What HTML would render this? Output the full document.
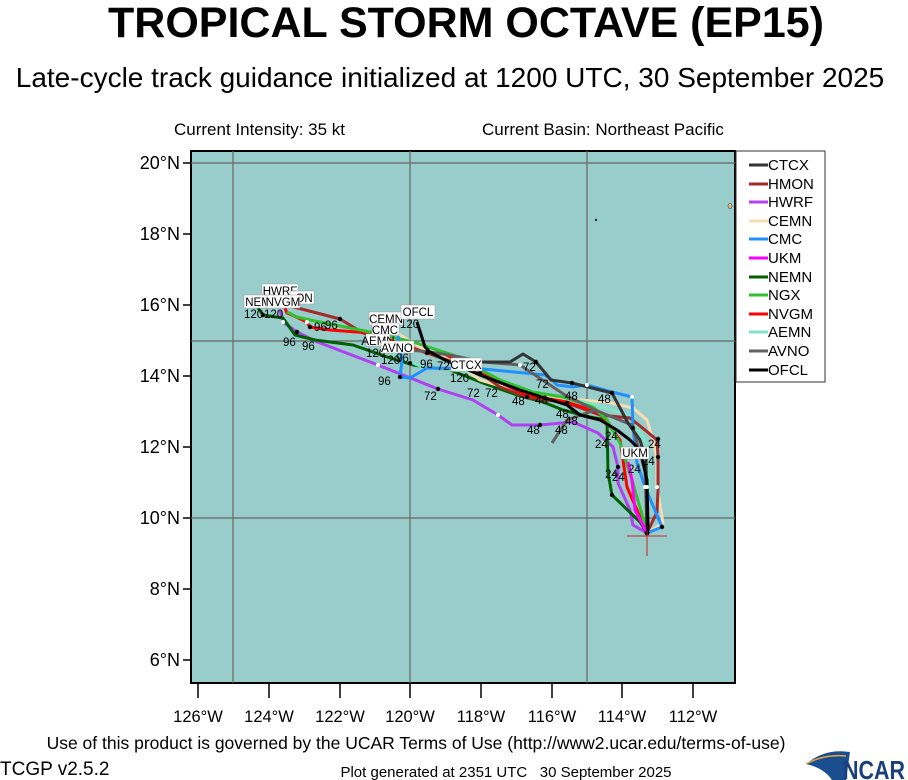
<!DOCTYPE html>
<html><head><meta charset="utf-8"><style>
body{margin:0;background:#fff;}
svg{display:block;font-family:"Liberation Sans",sans-serif;}
</style></head><body>
<svg width="908" height="780" viewBox="0 0 908 780" xmlns="http://www.w3.org/2000/svg">
<text x="466" y="37" font-size="43" font-weight="bold" text-anchor="middle">TROPICAL STORM OCTAVE (EP15)</text>
<text x="450" y="87" font-size="28" text-anchor="middle">Late-cycle track guidance initialized at 1200 UTC, 30 September 2025</text>
<text x="174" y="135" font-size="17">Current Intensity: 35 kt</text>
<text x="482" y="135" font-size="17">Current Basin: Northeast Pacific</text>
<rect x="191" y="151" width="544" height="532" fill="#99cdcc" stroke="#000" stroke-width="2"/>
<g stroke="#666" stroke-width="1.2">
<line x1="233" y1="151" x2="233" y2="683"/><line x1="410" y1="151" x2="410" y2="683"/><line x1="587" y1="151" x2="587" y2="683"/>
<line x1="191" y1="163" x2="735" y2="163"/><line x1="191" y1="341" x2="735" y2="341"/><line x1="191" y1="518" x2="735" y2="518"/>
</g>
<g stroke="#000" stroke-width="1.5">
<line x1="183" y1="163" x2="190" y2="163"/><line x1="183" y1="234" x2="190" y2="234"/><line x1="183" y1="305" x2="190" y2="305"/><line x1="183" y1="376" x2="190" y2="376"/><line x1="183" y1="447" x2="190" y2="447"/><line x1="183" y1="518" x2="190" y2="518"/><line x1="183" y1="589" x2="190" y2="589"/><line x1="183" y1="660" x2="190" y2="660"/>
<line x1="198" y1="684" x2="198" y2="698"/><line x1="269" y1="684" x2="269" y2="698"/><line x1="340" y1="684" x2="340" y2="698"/><line x1="410" y1="684" x2="410" y2="698"/><line x1="481" y1="684" x2="481" y2="698"/><line x1="552" y1="684" x2="552" y2="698"/><line x1="622" y1="684" x2="622" y2="698"/><line x1="693" y1="684" x2="693" y2="698"/>
</g>
<g font-size="18" text-anchor="end">
<text x="180" y="169">20°N</text><text x="180" y="240">18°N</text><text x="180" y="311">16°N</text><text x="180" y="382">14°N</text><text x="180" y="453">12°N</text><text x="180" y="524">10°N</text><text x="180" y="595">8°N</text><text x="180" y="666">6°N</text>
</g>
<g font-size="16.5" text-anchor="middle">
<text x="198" y="722">126°W</text><text x="269" y="722">124°W</text><text x="340" y="722">122°W</text><text x="410" y="722">120°W</text><text x="481" y="722">118°W</text><text x="552" y="722">116°W</text><text x="622" y="722">114°W</text><text x="693" y="722">112°W</text>
</g>
<circle cx="596" cy="220" r="1.2" fill="#333"/>
<ellipse cx="730" cy="206" rx="2" ry="2.5" fill="#e0c080" stroke="#333" stroke-width="0.6"/>
<g fill="none" stroke-width="3" stroke-linejoin="round">
<polyline stroke="#b040f0" points="647,533 633,525 630,510 618,483 618,467 613,447 598,433 573,422 540,425 512,425 498,415 473,400 438,389 378,365 315,341 297,332 283,322 280,310"/>
<polyline stroke="#006000" points="647,533 640,522 612,495 608,473 607,420 590,417 563,410 543,402 517,395 483,383 450,370 413,365 390,358 353,345 315,340 295,335 283,318 263,315 258,308"/>
<polyline stroke="#f5deb3" points="647,533 663,523 657,487 657,460 653,440 647,420 633,408 607,402 580,400 553,398 520,392 480,380 457,363 420,347 400,335 390,325"/>
<polyline stroke="#7fe5c5" points="647,533 650,470 645,440 628,415 597,405 560,397 520,388 480,372 450,370 420,366 395,355 385,345"/>
<polyline stroke="#a52a2a" points="647,533 657,512 658,490 658,457 657,440 645,430 630,418 600,415 567,403 547,400 527,397 500,387 480,373 453,362 427,353 363,333 340,319 290,306"/>
<polyline stroke="#ff0000" points="647,533 640,517 627,487 620,440 600,413 567,402 527,395 480,373 443,353 427,353 370,333 330,330 310,327 307,322 292,315 287,313 285,308"/>
<polyline stroke="#30c030" points="647,533 643,518 632,480 620,443 607,420 593,407 563,397 533,392 500,380 453,355 413,342 370,332 310,320 297,317 287,312"/>
<polyline stroke="#2090ff" points="647,533 662,527 645,487 637,463 633,428 632,397 612,392 587,385 573,387 557,385 552,380 545,375 483,369 427,368 410,378 400,377 402,360 398,336"/>
<polyline stroke="#606060" points="647,533 645,470 632,425 595,410 567,420 552,443"/>
<polyline stroke="#606060" points="595,410 565,395 520,365 483,362 455,356 430,352 410,350"/>
<polyline stroke="#333333" points="647,533 646,460 640,440 628,423 612,393 572,383 551,380 536,362 523,354 510,362 470,362"/>
<polyline stroke="#ff00ff" points="647,533 635,510 632,480 628,462"/>
<polyline stroke="#000000" points="647,533 648,527 647,480 640,450 630,440 617,430 600,420 580,415 567,405 520,390 480,375 445,360 430,352 425,347 417,322"/>
</g>
<g fill="#000">
<circle cx="647" cy="533" r="2.5"/><circle cx="662" cy="527" r="2.2"/><circle cx="658" cy="457" r="2.2"/><circle cx="658" cy="439" r="2.2"/><circle cx="618" cy="467" r="2.2"/><circle cx="612" cy="495" r="2.2"/>
<circle cx="633" cy="428" r="2.2"/><circle cx="612" cy="393" r="2.2"/><circle cx="572" cy="383" r="2.2"/><circle cx="536" cy="362" r="2.2"/><circle cx="540" cy="425" r="2.2"/><circle cx="567" cy="403" r="2.2"/>
<circle cx="527" cy="397" r="2.2"/><circle cx="480" cy="373" r="2.2"/><circle cx="453" cy="362" r="2.2"/><circle cx="438" cy="389" r="2.2"/><circle cx="427" cy="353" r="2.2"/><circle cx="340" cy="319" r="2.2"/>
<circle cx="297" cy="332" r="2.2"/><circle cx="410" cy="363" r="2.2"/><circle cx="400" cy="377" r="2.2"/><circle cx="263" cy="315" r="2.2"/><circle cx="310" cy="327" r="2.2"/>
</g>
<g fill="#fff">
<circle cx="647" cy="487" r="2"/><circle cx="657" cy="487" r="2"/><circle cx="645" cy="487" r="2"/><circle cx="632" cy="397" r="2"/><circle cx="498" cy="415" r="2"/><circle cx="378" cy="365" r="2"/><circle cx="283" cy="322" r="2"/><circle cx="520" cy="365" r="2"/><circle cx="587" cy="385" r="2"/><circle cx="473" cy="362" r="2"/><circle cx="307" cy="322" r="2"/>
</g>
<g stroke="#cc2222" stroke-width="1"><line x1="627" y1="536" x2="667" y2="536"/><line x1="647" y1="530" x2="647" y2="556"/></g>
<g font-size="11.5" fill="#000">
<text x="244" y="318">120</text><text x="264" y="318">120</text><text x="283" y="346">96</text><text x="302" y="350">96</text><text x="325" y="329">96</text><text x="314" y="331">96</text>
<text x="366" y="357">120</text><text x="381" y="364">120</text><text x="378" y="385">96</text><text x="400" y="328">120</text><text x="396" y="362">96</text>
<text x="420" y="368">96</text><text x="450" y="382">120</text><text x="467" y="397">72</text><text x="485" y="397">72</text><text x="424" y="400">72</text><text x="437" y="370">72</text>
<text x="523" y="371">72</text><text x="536" y="388">72</text><text x="512" y="405">48</text><text x="535" y="404">48</text><text x="565" y="400">48</text><text x="598" y="403">48</text>
<text x="527" y="434">48</text><text x="555" y="434">48</text><text x="556" y="418">48</text><text x="565" y="425">48</text><text x="595" y="448">24</text><text x="605" y="440">24</text>
<text x="605" y="478">24</text><text x="612" y="481">24</text><text x="628" y="473">24</text><text x="642" y="465">24</text><text x="648" y="448">24</text>
</g>
<g font-size="11.5" text-anchor="middle">
<rect x="262" y="284" width="36" height="13" fill="#fff" stroke="#999" stroke-width="0.5"/><text x="280" y="295">HWRF</text>
<rect x="290" y="291" width="24" height="13" fill="#fff" stroke="#999" stroke-width="0.5"/><text x="304" y="302">ON</text>
<rect x="244" y="295" width="28" height="13" fill="#fff" stroke="#999" stroke-width="0.5"/><text x="258" y="306">NEM</text>
<rect x="266" y="295" width="34" height="13" fill="#fff" stroke="#999" stroke-width="0.5"/><text x="283" y="306">NVGM</text>
<rect x="369" y="312" width="34" height="13" fill="#fff" stroke="#999" stroke-width="0.5"/><text x="386" y="323">CEMN</text>
<rect x="401" y="305" width="34" height="14" fill="#fff" stroke="#999" stroke-width="0.5"/><text x="418" y="316">OFCL</text>
<rect x="372" y="323" width="27" height="12" fill="#fff" stroke="#999" stroke-width="0.5"/><text x="385" y="334">CMC</text>
<rect x="366" y="334" width="24" height="12" fill="#fff" stroke="#999" stroke-width="0.5"/><text x="378" y="345">AEMN</text>
<rect x="381" y="341" width="33" height="12" fill="#fff" stroke="#999" stroke-width="0.5"/><text x="397" y="352">AVNO</text>
<rect x="451" y="358" width="31" height="13" fill="#fff" stroke="#999" stroke-width="0.5"/><text x="466" y="369">CTCX</text>
<rect x="621" y="447" width="28" height="12" fill="#fff" stroke="#999" stroke-width="0.5"/><text x="635" y="457">UKM</text>
</g>
<rect x="736" y="151" width="89" height="231" fill="#fff" stroke="#333" stroke-width="1"/>
<g stroke-width="3">
<line x1="749" y1="165" x2="768" y2="165" stroke="#333"/>
<line x1="749" y1="184" x2="768" y2="184" stroke="#a52a2a"/>
<line x1="749" y1="202" x2="768" y2="202" stroke="#b040f0"/>
<line x1="749" y1="221" x2="768" y2="221" stroke="#f5deb3"/>
<line x1="749" y1="239" x2="768" y2="239" stroke="#2090ff"/>
<line x1="749" y1="258" x2="768" y2="258" stroke="#ff00ff"/>
<line x1="749" y1="277" x2="768" y2="277" stroke="#006000"/>
<line x1="749" y1="295" x2="768" y2="295" stroke="#30c030"/>
<line x1="749" y1="314" x2="768" y2="314" stroke="#ff0000"/>
<line x1="749" y1="332" x2="768" y2="332" stroke="#7fe5c5"/>
<line x1="749" y1="351" x2="768" y2="351" stroke="#606060"/>
<line x1="749" y1="370" x2="768" y2="370" stroke="#000"/>
</g>
<g font-size="15">
<text x="768" y="170">CTCX</text><text x="768" y="189">HMON</text><text x="768" y="207">HWRF</text><text x="768" y="226">CEMN</text><text x="768" y="244">CMC</text><text x="768" y="263">UKM</text><text x="768" y="282">NEMN</text><text x="768" y="300">NGX</text><text x="768" y="319">NVGM</text><text x="768" y="337">AEMN</text><text x="768" y="356">AVNO</text><text x="768" y="375">OFCL</text>
</g>
<text x="416" y="749" font-size="17.5" text-anchor="middle">Use of this product is governed by the UCAR Terms of Use (http://www2.ucar.edu/terms-of-use)</text>
<text x="0" y="775" font-size="19">TCGP v2.5.2</text>
<text x="506" y="777" font-size="15" text-anchor="middle" xml:space="preserve">Plot generated at 2351 UTC   30 September 2025</text>
<path d="M806,764 Q825,748 850,752 L846,780 L832,780 Q824,768 806,764Z" fill="#1a4f8f"/>
<path d="M806,764 Q824,754 846,756" fill="none" stroke="#e8a040" stroke-width="1.5"/>
<text x="843" y="779" font-size="26" font-weight="bold" fill="#1a3f7f" textLength="62" lengthAdjust="spacingAndGlyphs">NCAR</text>
</svg>
</body></html>
